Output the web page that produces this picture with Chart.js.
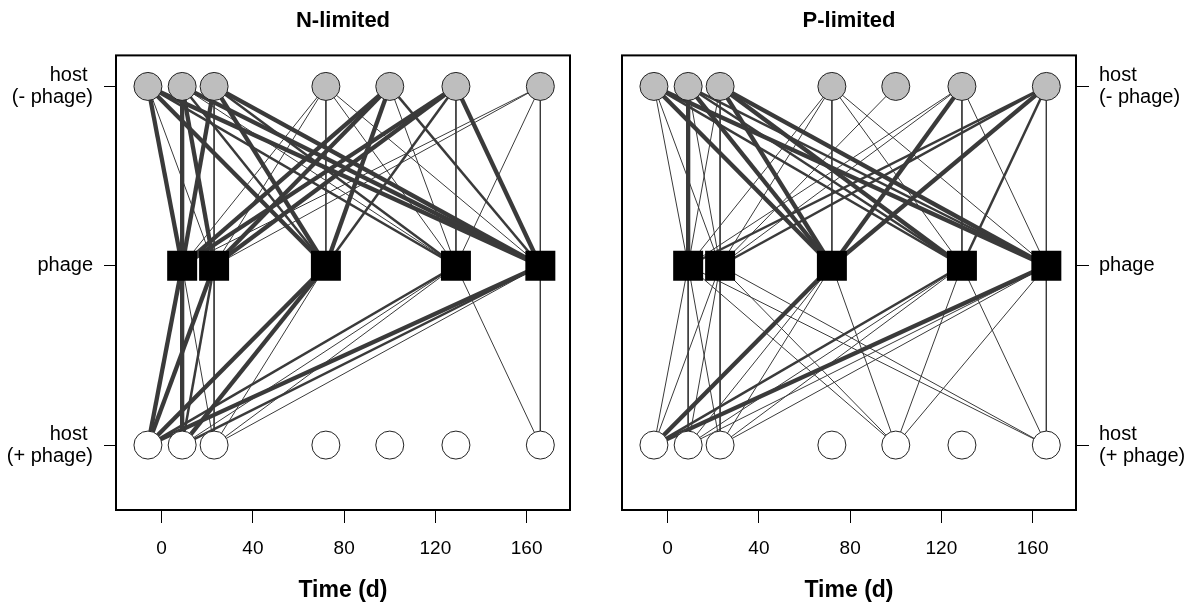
<!DOCTYPE html>
<html><head><meta charset="utf-8">
<script src="https://cdn.jsdelivr.net/npm/chart.js@4"></script>
<style>
html,body{margin:0;padding:0;background:#fff;}
#wrap{position:relative;width:1190px;height:610px;overflow:hidden;}
.panel{position:absolute;top:0;width:595px;height:610px;}
</style></head><body>
<div id="wrap">
<div class="panel" style="left:0"><canvas id="c1" width="595" height="610"></canvas></div>
<div class="panel" style="left:595px"><canvas id="c2" width="595" height="610"></canvas></div>
</div>
<script>
// ---- data ----
const hostTimes = [-6, 9, 23, 72, 100, 129, 166];
const phageTimes = [9, 23, 72, 129, 166];
const xTicks = [0, 40, 80, 120, 160];
const rowValues = [1, 2, 3];
const rowLabels = [['host ', '(+ phage)'], 'phage', ['host ', '(- phage)']];
const panelTitles = ['N-limited', 'P-limited'];
const xTitle = 'Time (d)';

// [host(-phage) index, phage index, weight]
const nTopEdges = [
  [0,0,3],[0,1,1],[0,2,3],[0,3,2],[0,4,3],
  [1,0,3],[1,1,3],[1,2,2],[1,3,1],[1,4,3],
  [2,0,3],[2,1,1],[2,2,3],[2,3,2],[2,4,3],
  [3,0,1],[3,1,1],[3,2,1],[3,3,1],[3,4,1],
  [4,0,3],[4,1,3],[4,2,3],[4,3,1],[4,4,2],
  [5,0,3],[5,1,3],[5,2,2],[5,3,1],[5,4,3],
  [6,0,1],[6,1,1],[6,3,1],[6,4,1]
];
// [phage index, host(+phage) index, weight]
const nBottomEdges = [
  [0,0,3],[0,1,3],[0,2,1],
  [1,0,3],[1,1,2],[1,2,1],
  [2,0,3],[2,1,3],[2,2,1],
  [3,0,2],[3,1,1],[3,2,1],[3,6,1],
  [4,0,3],[4,1,2],[4,2,1],[4,6,1]
];
const pTopEdges = [
  [0,0,1],[0,1,1],[0,2,3],[0,3,2],[0,4,3],
  [1,0,3],[1,1,1],[1,2,3],[1,3,2],[1,4,2],
  [2,0,1],[2,1,1],[2,2,3],[2,3,3],[2,4,3],
  [3,0,1],[3,1,1],[3,2,1],[3,3,1],[3,4,1],
  [4,1,1],
  [5,0,1],[5,1,1],[5,2,3],[5,3,1],[5,4,1],
  [6,0,2],[6,1,2],[6,2,3],[6,3,2],[6,4,1]
];
const pBottomEdges = [
  [0,0,1],[0,1,1],[0,2,1],[0,4,1],[0,6,1],
  [1,0,1],[1,1,1],[1,2,1],[1,4,1],[1,6,1],
  [2,0,3],[2,1,1],[2,2,1],[2,4,1],
  [3,0,2],[3,1,1],[3,2,1],[3,4,1],[3,6,1],
  [4,0,3],[4,1,1],[4,2,1],[4,4,1],[4,6,1]
];

// ---- styling ----
const FONT = "'Liberation Sans', Arial, sans-serif";
Chart.defaults.font.family = FONT;
Chart.defaults.color = '#000';
const EDGE_COLOR = '#3a3a3a';
const WIDTHS = {1: 1, 2: 2.5, 3: 4.3};
const TOP_ROW = rowValues[2], MID_ROW = rowValues[1], BOT_ROW = rowValues[0];

function edge(x1, y1, x2, y2, w) {
  return {
    data: [{x: x1, y: y1}, {x: x2, y: y2}],
    showLine: true, borderColor: EDGE_COLOR, borderWidth: WIDTHS[w],
    pointRadius: 0, pointHoverRadius: 0, order: 5
  };
}

const boxPlugin = {
  id: 'box',
  afterDraw(chart) {
    const {ctx, chartArea: a} = chart;
    ctx.save();
    ctx.strokeStyle = '#000';
    ctx.lineWidth = 2;
    ctx.strokeRect(a.left, a.top, a.right - a.left, a.bottom - a.top);
    ctx.restore();
  }
};

function makePanel(id, title, topEdges, bottomEdges, side) {
  const ds = [];
  topEdges.forEach(([h, p, w]) => ds.push(edge(hostTimes[h], TOP_ROW, phageTimes[p], MID_ROW, w)));
  bottomEdges.forEach(([p, h, w]) => ds.push(edge(phageTimes[p], MID_ROW, hostTimes[h], BOT_ROW, w)));
  ds.push({
    data: hostTimes.map(t => ({x: t, y: TOP_ROW})),
    pointRadius: 14, pointHoverRadius: 14, backgroundColor: '#bebebe',
    borderColor: '#222', borderWidth: 1, order: 0
  });
  ds.push({
    data: phageTimes.map(t => ({x: t, y: MID_ROW})),
    pointStyle: 'rect', pointRadius: 21.2, pointHoverRadius: 21.2,
    backgroundColor: '#000', borderColor: '#000', borderWidth: 0, order: 0
  });
  ds.push({
    data: hostTimes.map(t => ({x: t, y: BOT_ROW})),
    pointRadius: 14, pointHoverRadius: 14, backgroundColor: '#fff',
    borderColor: '#222', borderWidth: 1, order: 0
  });
  const left = side === 'left';
  return new Chart(document.getElementById(id), {
    type: 'scatter',
    data: {datasets: ds},
    options: {
      responsive: false, animation: false, devicePixelRatio: 1,
      layout: {padding: left ? {left: 0, right: 25, top: 0, bottom: 0} : {left: 27, right: 0, top: 0, bottom: 0}},
      plugins: {
        legend: {display: false}, tooltip: {enabled: false},
        title: {display: true, text: title, fullSize: false, color: '#000',
          font: {family: FONT, size: 22, weight: 'bold'}, padding: {top: 8, bottom: 21}}
      },
      scales: {
        x: {
          type: 'linear', position: 'bottom', min: -20, max: 179,
          afterBuildTicks: s => { s.ticks = xTicks.map(v => ({value: v})); },
          ticks: {color: '#000', font: {family: FONT, size: 19}, padding: 14, maxRotation: 0, autoSkip: false},
          grid: {drawOnChartArea: false, drawTicks: true, tickLength: 13, tickColor: '#000', tickWidth: 1},
          border: {display: false},
          title: {display: true, text: xTitle, color: '#000', font: {family: FONT, size: 23, weight: 'bold'}, padding: {top: 0, bottom: 6}},
          afterFit: s => { s.height = 100; }
        },
        y: {
          type: 'linear', position: side, min: 0.638, max: 3.173,
          afterBuildTicks: s => { s.ticks = rowValues.map(v => ({value: v})); },
          ticks: {color: '#000', font: {family: FONT, size: 20, lineHeight: 1.1}, padding: left ? 11 : 10,
            autoSkip: false, callback: (v, i) => rowLabels[i]},
          grid: {drawOnChartArea: false, drawTicks: true, tickLength: left ? 12 : 13, tickColor: '#000', tickWidth: 1},
          border: {display: false},
          afterFit: s => { s.width = left ? 116 : 114; }
        }
      }
    },
    plugins: [boxPlugin]
  });
}

makePanel('c1', panelTitles[0], nTopEdges, nBottomEdges, 'left');
makePanel('c2', panelTitles[1], pTopEdges, pBottomEdges, 'right');
</script>
</body></html>
